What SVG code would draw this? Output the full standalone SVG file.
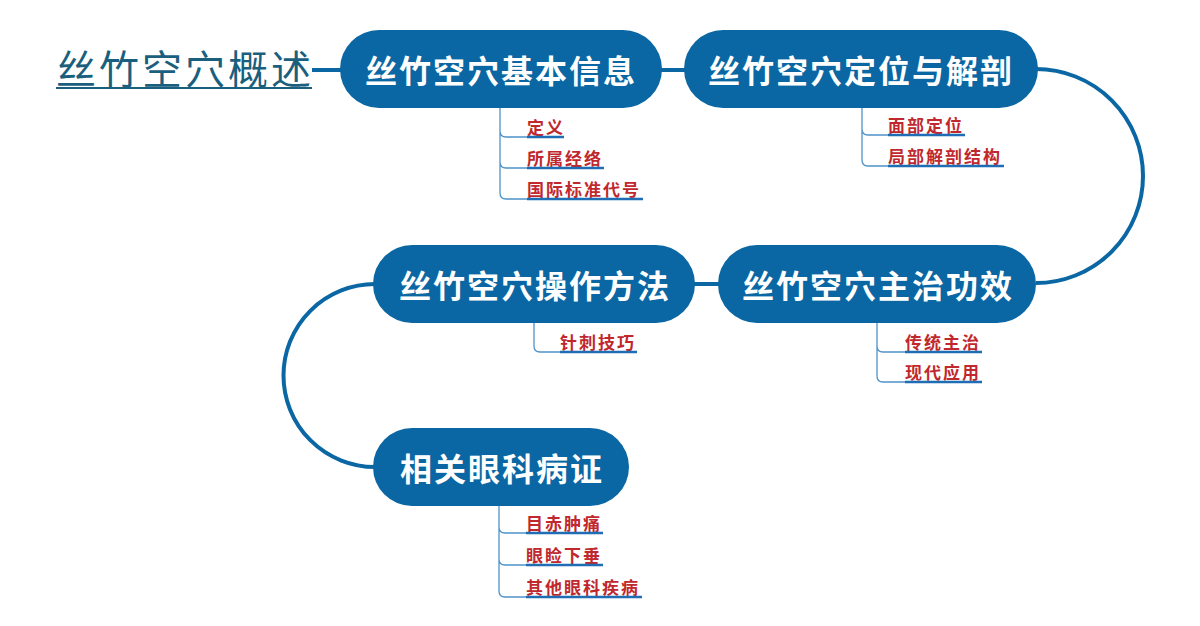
<svg xmlns="http://www.w3.org/2000/svg" width="1200" height="626" viewBox="0 0 1200 626">
<style>
.pill{fill:#0a67a3}
.nt{font-family:"Noto Sans CJK SC","Noto Sans",sans-serif;font-size:32px;font-weight:bold;fill:#ffffff;letter-spacing:2px;text-anchor:middle;dominant-baseline:central}
.main{fill:none;stroke:#0a67a3;stroke-width:4}
.br{fill:none;stroke:#4f93c8;stroke-width:1.3}
.ul{stroke:#1f6db5;stroke-width:2.5}
.st{font-family:"Noto Sans CJK SC","Noto Sans",sans-serif;font-size:17px;font-weight:bold;fill:#c0282d;letter-spacing:2px}
</style>
<rect width="1200" height="626" fill="#ffffff"/>
<g id="title">
<text x="56" y="84" font-family="Noto Sans CJK SC,sans-serif" font-size="40" letter-spacing="3" fill="#1b5f7e">丝竹空穴概述</text>
<line x1="56" y1="88" x2="312" y2="88" stroke="#1b5f7e" stroke-width="2"/>
</g>
<g id="connectors">
<line class="main" x1="312" y1="70" x2="342" y2="70"/>
<line class="main" x1="660" y1="70" x2="686" y2="70"/>
<path class="main" d="M1036,69 A107,107 0 0 1 1036,283"/>
<line class="main" x1="693" y1="284" x2="720" y2="284"/>
<path class="main" d="M375,284 A91.5,91.5 0 0 0 375,467"/>
<path class="br" d="M500,108 V131 Q500,137 506,137 H527 M500,131 V162 Q500,168 506,168 H527 M500,162 V193 Q500,199 506,199 H527"/>
<path class="br" d="M862,108 V129 Q862,135 868,135 H888 M862,129 V160 Q862,166 868,166 H888"/>
<path class="br" d="M877,323 V346 Q877,352 883,352 H905 M877,346 V376 Q877,382 883,382 H905"/>
<path class="br" d="M534,323 V346 Q534,352 540,352 H560"/>
<path class="br" d="M499,506 V527 Q499,533 505,533 H526 M499,527 V559 Q499,565 505,565 H526 M499,559 V591 Q499,597 505,597 H526"/>
</g>
<g id="n1">
<rect class="pill" x="340" y="30" width="322" height="78" rx="39"/>
<text class="nt" x="501" y="69">丝竹空穴基本信息</text>
</g>
<g id="n2">
<rect class="pill" x="684" y="30" width="354" height="78" rx="39"/>
<text class="nt" x="861" y="69">丝竹空穴定位与解剖</text>
</g>
<g id="n3">
<rect class="pill" x="718" y="245" width="318" height="78" rx="39"/>
<text class="nt" x="878" y="284">丝竹空穴主治功效</text>
</g>
<g id="n4">
<rect class="pill" x="373" y="245" width="322" height="78" rx="39"/>
<text class="nt" x="535" y="284">丝竹空穴操作方法</text>
</g>
<g id="n5">
<rect class="pill" x="373" y="428" width="256" height="78" rx="39"/>
<text class="nt" x="502" y="467">相关眼科病证</text>
</g>
<g id="n1-items">
<text class="st" x="527" y="134">定义</text><line class="ul" x1="527" y1="137" x2="564" y2="137"/>
<text class="st" x="527" y="165">所属经络</text><line class="ul" x1="527" y1="168" x2="604" y2="168"/>
<text class="st" x="527" y="196">国际标准代号</text><line class="ul" x1="527" y1="199" x2="643" y2="199"/>
</g>
<g id="n2-items">
<text class="st" x="888" y="132">面部定位</text><line class="ul" x1="888" y1="135" x2="965" y2="135"/>
<text class="st" x="888" y="163">局部解剖结构</text><line class="ul" x1="888" y1="166" x2="1004" y2="166"/>
</g>
<g id="n3-items">
<text class="st" x="905" y="349">传统主治</text><line class="ul" x1="905" y1="352" x2="982" y2="352"/>
<text class="st" x="905" y="379">现代应用</text><line class="ul" x1="905" y1="382" x2="982" y2="382"/>
</g>
<g id="n4-items">
<text class="st" x="560" y="349">针刺技巧</text><line class="ul" x1="560" y1="352" x2="637" y2="352"/>
</g>
<g id="n5-items">
<text class="st" x="526" y="530">目赤肿痛</text><line class="ul" x1="526" y1="533" x2="603" y2="533"/>
<text class="st" x="526" y="562">眼睑下垂</text><line class="ul" x1="526" y1="565" x2="603" y2="565"/>
<text class="st" x="526" y="594">其他眼科疾病</text><line class="ul" x1="526" y1="597" x2="642" y2="597"/>
</g>
</svg>
